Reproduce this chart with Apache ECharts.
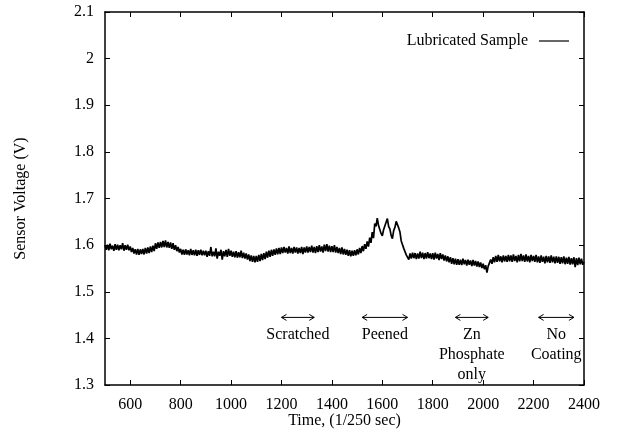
<!DOCTYPE html>
<html>
<head>
<meta charset="utf-8">
<script src="https://cdn.jsdelivr.net/npm/echarts@6/dist/echarts.min.js"></script>
<style>
  html, body { margin: 0; padding: 0; background: #fff; }
  #chart { width: 618px; height: 430px; }
</style>
</head>
<body>
<div id="chart"></div>
<script>
// sample grid: one value every 5 time units, from 500 to 2400
var startTime = 500
var timeStep = 5
var voltage = [
  1.600,1.590,1.601,1.589,1.603,1.591,1.599,1.588,1.602,1.590,1.601,1.589,1.600,1.591,1.604,1.588,1.600,1.590,1.601,1.589,
  1.597,1.585,1.594,1.582,1.591,1.580,1.592,1.579,1.591,1.581,1.592,1.580,1.594,1.582,1.595,1.583,1.597,1.585,1.599,1.587,
  1.604,1.592,1.606,1.594,1.607,1.595,1.609,1.596,1.610,1.595,1.607,1.594,1.606,1.592,1.604,1.590,1.600,1.587,1.596,1.584,
  1.592,1.580,1.590,1.579,1.591,1.580,1.589,1.578,1.592,1.579,1.589,1.578,1.590,1.577,1.589,1.579,1.590,1.578,1.588,1.578,
  1.588,1.575,1.587,1.577,1.596,1.576,1.586,1.576,1.593,1.571,1.586,1.577,1.590,1.569,1.587,1.576,1.590,1.575,1.592,1.577,
  1.588,1.575,1.586,1.574,1.587,1.573,1.585,1.574,1.588,1.572,1.584,1.571,1.582,1.569,1.580,1.566,1.578,1.564,1.577,1.563,
  1.577,1.564,1.579,1.566,1.581,1.568,1.583,1.570,1.586,1.573,1.588,1.575,1.590,1.577,1.591,1.579,1.593,1.580,1.594,1.581,
  1.595,1.583,1.596,1.584,1.594,1.582,1.597,1.583,1.594,1.582,1.596,1.584,1.595,1.582,1.594,1.583,1.596,1.581,1.595,1.584,
  1.597,1.584,1.596,1.585,1.599,1.584,1.596,1.583,1.598,1.585,1.600,1.586,1.597,1.584,1.601,1.587,1.602,1.586,1.599,1.585,
  1.598,1.585,1.600,1.584,1.596,1.583,1.594,1.581,1.595,1.580,1.592,1.579,1.590,1.577,1.589,1.576,1.588,1.577,1.589,1.578,
  1.591,1.580,1.594,1.583,1.598,1.587,1.602,1.592,1.608,1.597,1.616,1.605,1.628,1.615,1.646,1.640,1.658,1.642,1.641,1.625,
  1.620,1.633,1.636,1.649,1.657,1.640,1.635,1.621,1.614,1.631,1.638,1.651,1.655,1.637,1.628,1.609,1.607,1.593,1.593,1.579,
  1.581,1.569,1.582,1.571,1.584,1.572,1.583,1.570,1.582,1.571,1.586,1.572,1.584,1.570,1.583,1.571,1.585,1.572,1.582,1.570,
  1.583,1.569,1.584,1.571,1.581,1.568,1.583,1.570,1.580,1.567,1.578,1.565,1.576,1.563,1.574,1.560,1.572,1.559,1.571,1.558,
  1.570,1.558,1.569,1.557,1.571,1.559,1.568,1.556,1.569,1.558,1.567,1.555,1.568,1.556,1.566,1.554,1.565,1.553,1.563,1.551,
  1.560,1.548,1.557,1.541,1.555,1.558,1.569,1.560,1.574,1.563,1.577,1.564,1.579,1.565,1.576,1.563,1.578,1.565,1.577,1.564,
  1.579,1.565,1.578,1.564,1.580,1.566,1.577,1.563,1.579,1.565,1.581,1.566,1.578,1.564,1.580,1.565,1.577,1.563,1.579,1.566,
  1.577,1.564,1.579,1.563,1.576,1.562,1.578,1.564,1.575,1.561,1.577,1.563,1.576,1.562,1.578,1.563,1.575,1.561,1.576,1.562,
  1.575,1.560,1.574,1.561,1.576,1.559,1.573,1.560,1.575,1.558,1.572,1.559,1.574,1.553,1.572,1.557,1.573,1.559,1.571,1.558,
  1.564
]

var xTicks = [600, 800, 1000, 1200, 1400, 1600, 1800, 2000, 2200, 2400]

// annotation arrows under the trace
var annoFrom = [1200, 1520, 1890, 2220]
var annoTo = [1330, 1700, 2020, 2360]
var annoLabels = ['Scratched', 'Peened', 'Zn\nPhosphate\nonly', 'No\nCoating']
var arrowY = 1.445
var labelY = 1.43

var serif = '"Liberation Serif", "DejaVu Serif", serif'

var lineData = []
for (var i = 0; i < voltage.length; i++) {
  lineData.push([startTime + i * timeStep, voltage[i]])
}
var annoData = []
for (var j = 0; j < annoFrom.length; j++) {
  annoData.push([annoFrom[j], annoTo[j], arrowY, labelY])
}

var chart = echarts.init(document.getElementById('chart'), null, { renderer: 'canvas' })

function axisBase() {
  return {
    axisLine: { show: true, lineStyle: { color: '#000', width: 1.5 } },
    axisTick: { show: true, inside: true, length: 5, lineStyle: { color: '#000', width: 1 } },
    splitLine: { show: false }
  }
}

var xBottom = axisBase()
xBottom.axisTick.customValues = xTicks
var xTop = axisBase()
xTop.axisTick.customValues = xTicks

var option = {
  backgroundColor: '#fff',
  animation: false,
  textStyle: { fontFamily: serif },
  grid: { left: 105, right: 34, top: 12, bottom: 45, outerBoundsMode: 'none', containLabel: false },
  legend: {
    data: [{ name: 'Lubricated Sample', icon: 'rect' }],
    right: 44,
    top: 28,
    align: 'right',
    itemWidth: 30,
    itemHeight: 1.2,
    itemStyle: { color: '#000' },
    textStyle: { fontFamily: serif, fontSize: 16, color: '#000', padding: [0, 6, 0, 0] }
  },
  xAxis: [
    Object.assign(xBottom, {
      type: 'value', min: 500, max: 2400,
      name: 'Time, (1/250 sec)', nameLocation: 'middle', nameGap: 28, nameMoveOverlap: false,
      nameTextStyle: { fontFamily: serif, fontSize: 16, color: '#000' },
      axisLabel: { fontFamily: serif, fontSize: 16, color: '#000', margin: 12,
        customValues: xTicks, formatter: function (v) { return String(v) } }
    }),
    Object.assign(xTop, {
      type: 'value', position: 'top', min: 500, max: 2400,
      axisLabel: { show: false }
    })
  ],
  yAxis: [
    Object.assign(axisBase(), {
      type: 'value', min: 1.3, max: 2.1, interval: 0.1,
      name: 'Sensor Voltage (V)', nameLocation: 'middle', nameGap: 76, nameMoveOverlap: false,
      nameTextStyle: { fontFamily: serif, fontSize: 16, color: '#000' },
      axisLabel: { fontFamily: serif, fontSize: 16, color: '#000', margin: 11 }
    }),
    Object.assign(axisBase(), {
      type: 'value', position: 'right', min: 1.3, max: 2.1, interval: 0.1,
      axisLabel: { show: false }
    })
  ],
  series: [
    {
      name: 'Lubricated Sample',
      type: 'line',
      data: lineData,
      symbol: 'none',
      lineStyle: { color: '#000', width: 1.7 },
      itemStyle: { color: '#000' }
    },
    {
      name: 'annotations',
      type: 'custom',
      data: annoData,
      silent: true,
      renderItem: function (params, api) {
        var a = api.coord([api.value(0), api.value(2)])
        var b = api.coord([api.value(1), api.value(2)])
        var t = api.coord([(api.value(0) + api.value(1)) / 2, api.value(3)])
        var st = { stroke: '#000', lineWidth: 1, fill: null }
        return {
          type: 'group',
          children: [
            { type: 'line', shape: { x1: a[0], y1: a[1], x2: b[0], y2: b[1] }, style: st },
            { type: 'polyline', shape: { points: [[a[0] + 5, a[1] - 3], [a[0], a[1]], [a[0] + 5, a[1] + 3]] }, style: st },
            { type: 'polyline', shape: { points: [[b[0] - 5, b[1] - 3], [b[0], b[1]], [b[0] - 5, b[1] + 3]] }, style: st },
            {
              type: 'text', x: t[0], y: t[1],
              style: {
                text: annoLabels[params.dataIndex], align: 'center', verticalAlign: 'top',
                font: '16px ' + serif, lineHeight: 20, fill: '#000'
              }
            }
          ]
        }
      }
    }
  ]
}

chart.setOption(option)
</script>
</body>
</html>
